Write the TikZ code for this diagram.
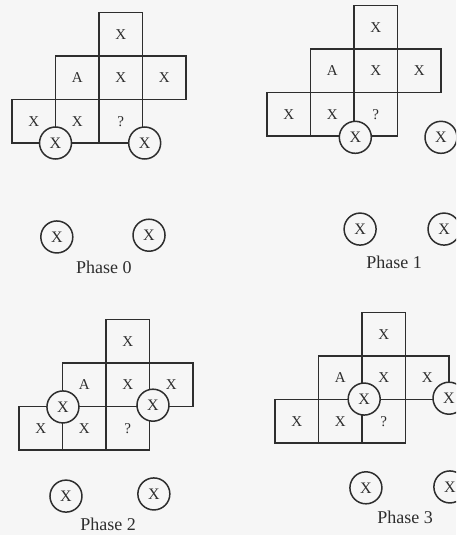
\documentclass[tikz,border=0pt]{standalone}
\usepackage{fontspec}
\setmainfont{Liberation Serif}
\definecolor{paper}{gray}{0.965}
\definecolor{ink}{gray}{0.18}
\tikzset{
  cellbox/.style={draw=ink, line width=1.5pt, minimum size=43.5pt, inner sep=0pt, font=\fontsize{15}{15}\selectfont, text=ink},
  robot/.style={draw=ink, fill=paper, circle, line width=1.5pt, minimum size=32pt, inner sep=0pt, font=\fontsize{16}{16}\selectfont, text=ink},
  phaselabel/.style={font=\fontsize{18}{18}\selectfont, text=ink, inner sep=0pt}
}
\newcommand{\gridcells}[1]{%
  \node[cellbox] (#1t)  at (2.5,2.5) {X};
  \node[cellbox] (#1a)  at (1.5,1.5) {A};
  \node[cellbox] (#1m)  at (2.5,1.5) {X};
  \node[cellbox] (#1r)  at (3.5,1.5) {X};
  \node[cellbox] (#1bl) at (0.5,0.5) {X};
  \node[cellbox] (#1bm) at (1.5,0.5) {X};
  \node[cellbox] (#1q)  at (2.5,0.5) {?};
}
\begin{document}
\begin{tikzpicture}[x=1pt,y=-1pt]
\fill[paper] (0,0) rectangle (456,535);
\useasboundingbox (0,0) rectangle (456,535);
\clip (0,0) rectangle (456,535);
% Phase 0
\begin{scope}[shift={(12,143)}, x=43.5pt, y=43.5pt]
  \gridcells{p0}
  \node[robot] (p0r1) at (1.0,0) {X};
  \node[robot] (p0r2) at (3.05,0) {X};
  \node[robot] (p0f1) at (1.03,-2.16) {X};
  \node[robot] (p0f2) at (3.15,-2.12) {X};
  \node[phaselabel] (p0l) at (2.11,-2.85) {Phase 0};
\end{scope}
% Phase 1
\begin{scope}[shift={(267,136)}, x=43.5pt, y=43.5pt]
  \gridcells{p1}
  \node[robot] (p1r1) at (2.03,-0.03) {X};
  \node[robot] (p1r2) at (4.0,-0.03) {X};
  \node[robot] (p1f1) at (2.14,-2.14) {X};
  \node[robot] (p1f2) at (4.07,-2.14) {X};
  \node[phaselabel] (p1l) at (2.92,-2.9) {Phase 1};
\end{scope}
% Phase 2
\begin{scope}[shift={(19,450)}, x=43.5pt, y=43.5pt]
  \gridcells{p2}
  \node[robot] (p2r1) at (1.01,0.99) {X};
  \node[robot] (p2r2) at (3.08,1.03) {X};
  \node[robot] (p2f1) at (1.08,-1.06) {X};
  \node[robot] (p2f2) at (3.1,-1.01) {X};
  \node[phaselabel] (p2l) at (2.05,-1.72) {Phase 2};
\end{scope}
% Phase 3
\begin{scope}[shift={(275,443)}, x=43.5pt, y=43.5pt]
  \gridcells{p3}
  \node[robot] (p3r1) at (2.05,1.01) {X};
  \node[robot] (p3r2) at (4.0,1.03) {X};
  \node[robot] (p3f1) at (2.09,-1.03) {X};
  \node[robot] (p3f2) at (4.02,-1.01) {X};
  \node[phaselabel] (p3l) at (2.99,-1.70) {Phase 3};
\end{scope}
\end{tikzpicture}
\end{document}
